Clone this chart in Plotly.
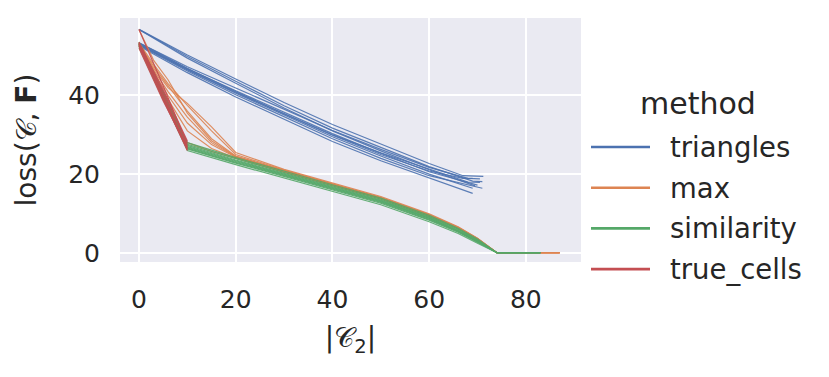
import plotly.graph_objects as go

# loss curves, one list per run, grouped by method
TRI_X = [
    [0, 10, 20, 30, 40, 50, 60, 67, 71.2],
    [0, 10, 20, 30, 40, 50, 60, 69, 71],
    [0, 10, 20, 30, 40, 50, 60, 69.5],
    [0, 10, 20, 30, 40, 50, 60, 68, 70.5],
    [0, 10, 20, 30, 40, 50, 60, 70],
    [0, 10, 20, 30, 40, 50, 60, 69],
    [0, 10, 20, 30, 40, 50, 60, 71],
    [0, 10, 20, 30, 40, 50, 60, 67, 69],
    [0, 10, 20, 30, 40, 50, 60, 69],
    [0, 10, 20, 30, 40, 50, 60, 68, 70.5],
]
TRI_Y = [
    [56.8, 50.3, 44.2, 38.2, 32.6, 27.6, 22.7, 19.6, 19.4],
    [56.8, 49.9, 43.6, 37.4, 31.7, 26.7, 21.9, 18.2, 18.1],
    [56.8, 49.5, 43.1, 36.8, 31.0, 25.9, 21.1, 17.0],
    [53.4, 47.3, 41.9, 36.5, 31.1, 26.3, 21.7, 18.9, 18.8],
    [53.2, 46.8, 41.2, 35.8, 30.3, 25.3, 20.6, 17.2],
    [53.0, 46.5, 40.6, 35.0, 29.5, 24.6, 20.0, 16.4],
    [52.8, 46.2, 40.2, 34.6, 29.0, 24.0, 19.6, 16.4],
    [53.4, 46.9, 41.0, 35.3, 29.9, 25.0, 20.8, 18.9, 18.9],
    [52.6, 45.8, 39.6, 33.9, 28.3, 23.4, 19.0, 15.1],
    [53.0, 46.6, 40.8, 35.4, 30.0, 25.4, 21.2, 18.0, 17.9],
]

MAX_X = [0, 3, 6, 10, 15, 20, 30, 40, 50, 60, 66, 70, 74, 87]
MAX_Y = [
    [53.0, 45.5, 38.0, 28.0, 25.8, 24.0, 20.6, 17.2, 13.8, 9.4, 6.2, 3.4, 0, 0],
    [53.2, 47.5, 42.5, 36.0, 29.0, 24.6, 20.9, 17.5, 14.0, 9.6, 6.4, 3.6, 0, 0],
    [53.4, 48.0, 43.0, 37.5, 31.0, 25.0, 21.0, 17.6, 14.1, 9.7, 6.5, 3.6, 0, 0],
    [52.8, 46.0, 40.0, 33.0, 27.5, 24.3, 20.8, 17.3, 13.9, 9.5, 6.3, 3.5, 0, 0],
    [56.8, 49.0, 44.0, 35.5, 28.5, 24.5, 20.7, 17.4, 14.0, 9.6, 6.4, 3.5, 0, 0],
    [53.0, 46.5, 41.0, 34.5, 28.0, 24.4, 20.8, 17.4, 13.9, 9.5, 6.3, 3.5, 0, 0],
    [52.6, 45.0, 39.0, 31.0, 26.5, 24.1, 20.5, 17.1, 13.7, 9.3, 6.1, 3.3, 0, 0],
    [53.2, 47.0, 42.0, 38.0, 32.0, 25.5, 21.2, 17.8, 14.3, 9.9, 6.6, 3.7, 0, 0],
]

SIM_X = [0, 5, 10, 20, 30, 40, 50, 60, 66, 70, 74, 83]
SIM_Y = [
    [53.2, 40.2, 27.0, 23.4, 20.0, 16.6, 13.2, 8.8, 5.6, 3.0, 0, 0],
    [52.8, 39.6, 26.4, 22.8, 19.4, 16.0, 12.6, 8.3, 5.2, 2.7, 0, 0],
    [53.0, 40.6, 27.6, 23.9, 20.4, 17.0, 13.6, 9.2, 6.0, 3.3, 0, 0],
    [52.5, 39.2, 26.0, 22.4, 19.0, 15.6, 12.2, 7.9, 4.9, 2.4, 0, 0],
    [53.6, 41.0, 28.0, 24.2, 20.7, 17.3, 13.9, 9.5, 6.2, 3.5, 0, 0],
    [53.4, 40.8, 27.3, 23.6, 20.2, 16.8, 13.4, 9.0, 5.8, 3.1, 0, 0],
    [52.2, 39.0, 26.6, 23.0, 19.6, 16.2, 12.8, 8.5, 5.4, 2.8, 0, 0],
    [53.0, 40.0, 26.8, 23.2, 19.8, 16.4, 13.0, 8.7, 5.5, 2.9, 0, 0],
]

TRUE_X = [0, 5, 10]
TRUE_Y = [
    [56.8, 42.5, 27.5],
    [53.6, 40.5, 27.0],
    [53.2, 40.0, 26.5],
    [52.8, 39.4, 26.2],
    [53.0, 41.0, 28.0],
    [52.5, 39.0, 26.0],
    [53.4, 41.5, 28.4],
    [52.0, 38.6, 26.8],
]

METHODS = ["triangles", "max", "similarity", "true_cells"]
COLORS = ["#4C72B0", "#DD8452", "#55A868", "#C44E52"]
X_TICKS = [0, 20, 40, 60, 80]
Y_TICKS = [0, 20, 40]

TXT = "#262626"
FONT = "DejaVu Sans"

series = [
    (TRI_X, TRI_Y),
    ([MAX_X] * len(MAX_Y), MAX_Y),
    ([SIM_X] * len(SIM_Y), SIM_Y),
    ([TRUE_X] * len(TRUE_Y), TRUE_Y),
]

fig = go.Figure()
for name, color, (xs, ys) in zip(METHODS, COLORS, series):
    for xv, yv in zip(xs, ys):
        fig.add_trace(go.Scatter(
            x=xv, y=yv, mode="lines", name=name, showlegend=False,
            line=dict(color=color, width=1.2), opacity=0.9,
        ))

# legend drawn by hand so the swatches match the long seaborn lines
W, H = 829, 377
L, R, T, B = 120, 248, 18, 115
pw, ph = W - L - R, H - T - B


def px(x):
    return (x - L) / pw


def py(y):
    return (H - B - y) / ph


annotations = [dict(
    text="method", x=px(698), y=py(104), xref="paper", yref="paper",
    showarrow=False, xanchor="center", yanchor="middle",
    font=dict(size=30, color=TXT, family=FONT),
)]
shapes = []
for i, (name, color) in enumerate(zip(METHODS, COLORS)):
    yy = 147 + i * 40.7
    shapes.append(dict(
        type="line", xref="paper", yref="paper",
        x0=px(591), x1=px(650), y0=py(yy), y1=py(yy),
        line=dict(color=color, width=2.6),
    ))
    annotations.append(dict(
        text=name, x=px(668), y=py(yy), xref="paper", yref="paper",
        showarrow=False, xanchor="left", yanchor="middle",
        font=dict(size=27.5, color=TXT, family=FONT),
    ))

fig.update_layout(
    width=W, height=H,
    margin=dict(l=L, r=R, t=T, b=B, autoexpand=False),
    paper_bgcolor="white",
    plot_bgcolor="#EAEAF2",
    font=dict(family=FONT, size=25, color=TXT),
    showlegend=False,
    annotations=annotations,
    shapes=shapes,
    xaxis=dict(
        range=[-3.93, 91.4], tickvals=X_TICKS, automargin=False,
        showgrid=True, gridcolor="white", gridwidth=2,
        zeroline=False, showline=False,
        ticks="outside", ticklen=15, tickcolor="rgba(0,0,0,0)",
        title=dict(text="|𝒞<sub>2</sub>|", font=dict(size=28), standoff=14),
    ),
    yaxis=dict(
        range=[-2.35, 59.7], tickvals=Y_TICKS, automargin=False,
        showgrid=True, gridcolor="white", gridwidth=2,
        zeroline=False, showline=False,
        ticks="outside", ticklen=14, tickcolor="rgba(0,0,0,0)",
        title=dict(text="loss(𝒞, <b>F</b>)", font=dict(size=28), standoff=23),
    ),
)

# page body has a default 8px margin; drop it so the figure sits at 0,0
fig.write_html(
    "out.html",
    config={"displayModeBar": False},
    post_script="document.body.style.margin='0';",
)
